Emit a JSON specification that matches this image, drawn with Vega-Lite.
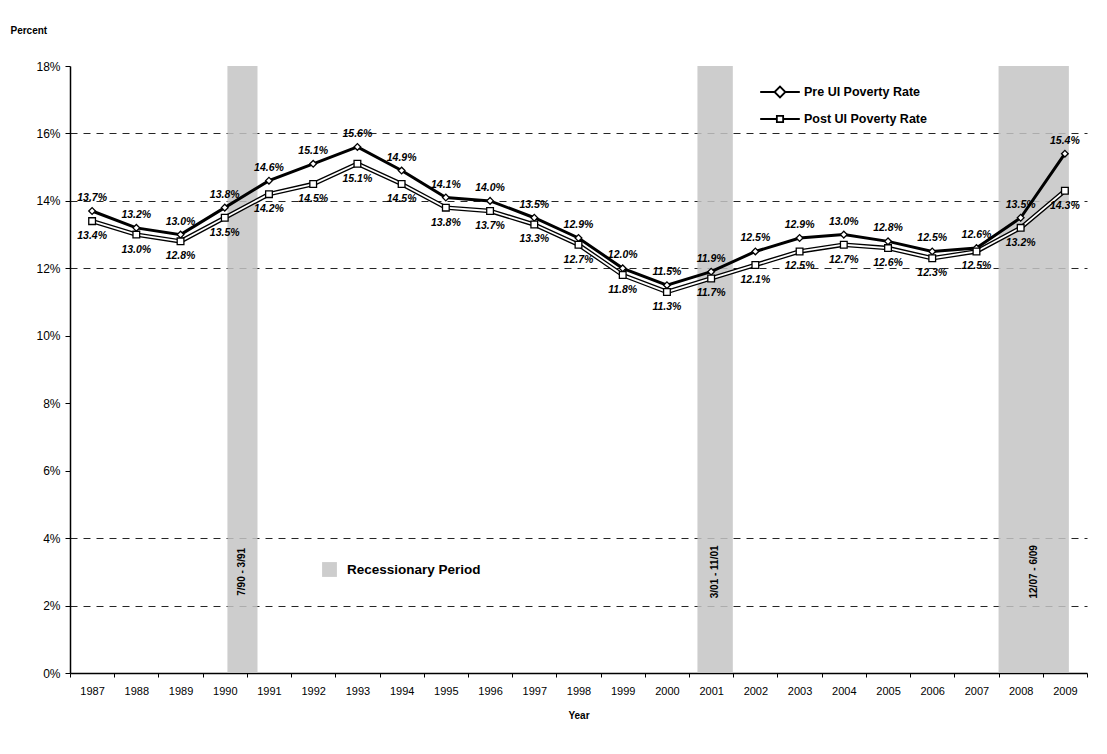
{
  "$schema": "https://vega.github.io/schema/vega-lite/v6.json",
  "width": 1017,
  "height": 607,
  "autosize": {"type": "none"},
  "padding": {"left": 70, "top": 66, "right": 20, "bottom": 81},
  "background": "white",
  "config": {
    "font": "Liberation Sans",
    "view": {"stroke": null},
    "axis": {"labelColor": "black", "titleColor": "black", "domainColor": "black", "tickColor": "black"}
  },
  "datasets": {
    "rates": [
      {"year": 1987, "series": "Pre UI Poverty Rate", "rate": 0.137},
      {"year": 1988, "series": "Pre UI Poverty Rate", "rate": 0.132},
      {"year": 1989, "series": "Pre UI Poverty Rate", "rate": 0.130},
      {"year": 1990, "series": "Pre UI Poverty Rate", "rate": 0.138},
      {"year": 1991, "series": "Pre UI Poverty Rate", "rate": 0.146},
      {"year": 1992, "series": "Pre UI Poverty Rate", "rate": 0.151},
      {"year": 1993, "series": "Pre UI Poverty Rate", "rate": 0.156},
      {"year": 1994, "series": "Pre UI Poverty Rate", "rate": 0.149},
      {"year": 1995, "series": "Pre UI Poverty Rate", "rate": 0.141},
      {"year": 1996, "series": "Pre UI Poverty Rate", "rate": 0.140},
      {"year": 1997, "series": "Pre UI Poverty Rate", "rate": 0.135},
      {"year": 1998, "series": "Pre UI Poverty Rate", "rate": 0.129},
      {"year": 1999, "series": "Pre UI Poverty Rate", "rate": 0.120},
      {"year": 2000, "series": "Pre UI Poverty Rate", "rate": 0.115},
      {"year": 2001, "series": "Pre UI Poverty Rate", "rate": 0.119},
      {"year": 2002, "series": "Pre UI Poverty Rate", "rate": 0.125},
      {"year": 2003, "series": "Pre UI Poverty Rate", "rate": 0.129},
      {"year": 2004, "series": "Pre UI Poverty Rate", "rate": 0.130},
      {"year": 2005, "series": "Pre UI Poverty Rate", "rate": 0.128},
      {"year": 2006, "series": "Pre UI Poverty Rate", "rate": 0.125},
      {"year": 2007, "series": "Pre UI Poverty Rate", "rate": 0.126},
      {"year": 2008, "series": "Pre UI Poverty Rate", "rate": 0.135},
      {"year": 2009, "series": "Pre UI Poverty Rate", "rate": 0.154},
      {"year": 1987, "series": "Post UI Poverty Rate", "rate": 0.134},
      {"year": 1988, "series": "Post UI Poverty Rate", "rate": 0.130},
      {"year": 1989, "series": "Post UI Poverty Rate", "rate": 0.128},
      {"year": 1990, "series": "Post UI Poverty Rate", "rate": 0.135},
      {"year": 1991, "series": "Post UI Poverty Rate", "rate": 0.142},
      {"year": 1992, "series": "Post UI Poverty Rate", "rate": 0.145},
      {"year": 1993, "series": "Post UI Poverty Rate", "rate": 0.151},
      {"year": 1994, "series": "Post UI Poverty Rate", "rate": 0.145},
      {"year": 1995, "series": "Post UI Poverty Rate", "rate": 0.138},
      {"year": 1996, "series": "Post UI Poverty Rate", "rate": 0.137},
      {"year": 1997, "series": "Post UI Poverty Rate", "rate": 0.133},
      {"year": 1998, "series": "Post UI Poverty Rate", "rate": 0.127},
      {"year": 1999, "series": "Post UI Poverty Rate", "rate": 0.118},
      {"year": 2000, "series": "Post UI Poverty Rate", "rate": 0.113},
      {"year": 2001, "series": "Post UI Poverty Rate", "rate": 0.117},
      {"year": 2002, "series": "Post UI Poverty Rate", "rate": 0.121},
      {"year": 2003, "series": "Post UI Poverty Rate", "rate": 0.125},
      {"year": 2004, "series": "Post UI Poverty Rate", "rate": 0.127},
      {"year": 2005, "series": "Post UI Poverty Rate", "rate": 0.126},
      {"year": 2006, "series": "Post UI Poverty Rate", "rate": 0.123},
      {"year": 2007, "series": "Post UI Poverty Rate", "rate": 0.125},
      {"year": 2008, "series": "Post UI Poverty Rate", "rate": 0.132},
      {"year": 2009, "series": "Post UI Poverty Rate", "rate": 0.143}
    ],
    "recessions": [
      {"start": 1990.06, "end": 1990.74, "label": "7/90 - 3/91", "kind": "Recessionary Period"},
      {"start": 2000.69, "end": 2001.49, "label": "3/01 - 11/01", "kind": "Recessionary Period"},
      {"start": 2007.5, "end": 2009.09, "label": "12/07 - 6/09", "kind": "Recessionary Period"}
    ]
  },
  "layer": [
    {
      "data": {"name": "recessions"},
      "mark": {"type": "rect", "opacity": 0.85},
      "encoding": {
        "x": {
          "field": "start", "type": "quantitative",
          "scale": {"domain": [1986.5, 2009.5], "nice": false, "zero": false},
          "axis": {
            "orient": "bottom",
            "values": [1986.5, 1987.5, 1988.5, 1989.5, 1990.5, 1991.5, 1992.5, 1993.5, 1994.5, 1995.5, 1996.5, 1997.5, 1998.5, 1999.5, 2000.5, 2001.5, 2002.5, 2003.5, 2004.5, 2005.5, 2006.5, 2007.5, 2008.5, 2009.5],
            "labels": false, "title": null, "tickSize": 4, "grid": false, "domainWidth": 1.5
          }
        },
        "x2": {"field": "end"},
        "fill": {
          "field": "kind", "type": "nominal",
          "scale": {"range": ["#c4c4c4"]},
          "legend": {
            "orient": "none", "legendX": 252, "legendY": 496, "title": null,
            "symbolType": "square", "symbolSize": 220, "symbolStrokeWidth": 0,
            "labelFontSize": 13.5, "labelFontWeight": "bold", "labelColor": "black", "labelOffset": 10
          }
        }
      }
    },
    {
      "data": {"name": "recessions"},
      "transform": [{"calculate": "(datum.start + datum.end) / 2", "as": "mid"}],
      "mark": {"type": "text", "angle": 270, "fontSize": 10, "fontWeight": "bold", "color": "black", "baseline": "middle", "align": "center"},
      "encoding": {
        "x": {"field": "mid", "type": "quantitative", "axis": null},
        "y": {"datum": 0.03, "type": "quantitative"},
        "text": {"field": "label"}
      }
    },
    {
      "data": {"name": "rates"},
      "transform": [{"filter": "datum.series == 'Post UI Poverty Rate'"}],
      "mark": {"type": "line", "color": "black", "strokeWidth": 4.5},
      "encoding": {
        "x": {
          "field": "year", "type": "quantitative",
          "axis": {
            "orient": "bottom",
            "values": [1987, 1988, 1989, 1990, 1991, 1992, 1993, 1994, 1995, 1996, 1997, 1998, 1999, 2000, 2001, 2002, 2003, 2004, 2005, 2006, 2007, 2008, 2009],
            "format": "d", "tickSize": 0, "labelPadding": 12, "labelFontSize": 11, "labelFont": "Liberation Sans",
            "title": "Year", "titleFontSize": 10, "titleFontWeight": "bold", "titlePadding": 14, "grid": false, "domain": false
          }
        },
        "y": {
          "field": "rate", "type": "quantitative",
          "scale": {"domain": [0, 0.18], "nice": false},
          "axis": {
            "values": [0, 0.02, 0.04, 0.06, 0.08, 0.1, 0.12, 0.14, 0.16, 0.18],
            "format": ".0%", "labelFontSize": 12, "tickSize": 5, "labelPadding": 5, "domainWidth": 1.5,
            "grid": true, "gridColor": "black", "gridDash": [7, 6], "gridWidth": 1,
            "gridOpacity": {"condition": {"test": "datum.value < 0.01 || (datum.value > 0.05 && datum.value < 0.11) || datum.value > 0.17", "value": 0}, "value": 0.85},
            "title": "Percent", "titleAngle": 0, "titleAlign": "left", "titleBaseline": "middle",
            "titleX": -60, "titleY": -36, "titleFontSize": 10, "titleFontWeight": "bold"
          }
        }
      }
    },
    {
      "data": {"name": "rates"},
      "transform": [{"filter": "datum.series == 'Post UI Poverty Rate'"}],
      "mark": {"type": "line", "color": "white", "strokeWidth": 1.8},
      "encoding": {
        "x": {"field": "year", "type": "quantitative", "axis": null},
        "y": {"field": "rate", "type": "quantitative"}
      }
    },
    {
      "data": {"name": "rates"},
      "transform": [{"filter": "datum.series == 'Pre UI Poverty Rate'"}],
      "mark": {"type": "line", "color": "black", "strokeWidth": 3},
      "encoding": {
        "x": {"field": "year", "type": "quantitative", "axis": null},
        "y": {"field": "rate", "type": "quantitative"}
      }
    },
    {
      "data": {"name": "rates"},
      "mark": {"type": "point", "filled": false, "fill": "white", "fillOpacity": 1, "stroke": "black", "strokeWidth": 1.3, "opacity": 1, "size": 45},
      "encoding": {
        "x": {"field": "year", "type": "quantitative", "axis": null},
        "y": {"field": "rate", "type": "quantitative"},
        "shape": {
          "field": "series", "type": "nominal",
          "scale": {"domain": ["Pre UI Poverty Rate", "Post UI Poverty Rate"], "range": ["diamond", "square"]},
          "legend": null
        }
      }
    },
    {
      "data": {"name": "rates"},
      "mark": {"type": "point", "filled": false, "opacity": 0, "size": 324},
      "encoding": {
        "x": {"field": "year", "type": "quantitative", "axis": null},
        "y": {"field": "rate", "type": "quantitative"},
        "strokeDash": {
          "field": "series", "type": "nominal",
          "scale": {"domain": ["Pre UI Poverty Rate", "Post UI Poverty Rate"], "range": [[1, 0], [1, 0]]},
          "legend": null
        },
        "shape": {
          "field": "series", "type": "nominal",
          "scale": {"domain": ["Pre UI Poverty Rate", "Post UI Poverty Rate"], "range": ["M-2.2,0H-0.6L0,-0.6L0.6,0L0,0.6L-0.6,0Z M0.6,0H2.2", "M-2.2,0H-0.35V-0.35H0.35V0.35H-0.35V0Z M0.35,0H2.2"]},
          "legend": {
            "orient": "none", "legendX": 700, "legendY": 16, "title": null,
            "symbolSize": 324, "symbolOpacity": 1, "symbolFillColor": "white", "symbolStrokeColor": "black", "symbolStrokeWidth": 1.8,
            "labelFontSize": 12.5, "labelFontWeight": "bold", "labelColor": "black", "rowPadding": 8, "labelOffset": 14
          }
        }
      }
    },
    {
      "data": {"name": "rates"},
      "transform": [{"filter": "datum.series == 'Pre UI Poverty Rate'"}],
      "mark": {"type": "text", "dy": -13, "fontSize": 10.5, "fontWeight": "bold", "fontStyle": "italic", "color": "black"},
      "encoding": {
        "x": {"field": "year", "type": "quantitative", "axis": null},
        "y": {"field": "rate", "type": "quantitative"},
        "text": {"field": "rate", "format": ".1%"}
      }
    },
    {
      "data": {"name": "rates"},
      "transform": [{"filter": "datum.series == 'Post UI Poverty Rate'"}],
      "mark": {"type": "text", "dy": 15, "fontSize": 10.5, "fontWeight": "bold", "fontStyle": "italic", "color": "black"},
      "encoding": {
        "x": {"field": "year", "type": "quantitative", "axis": null},
        "y": {"field": "rate", "type": "quantitative"},
        "text": {"field": "rate", "format": ".1%"}
      }
    }
  ],
  "resolve": {"axis": {"x": "independent"}, "scale": {"shape": "independent"}}
}
